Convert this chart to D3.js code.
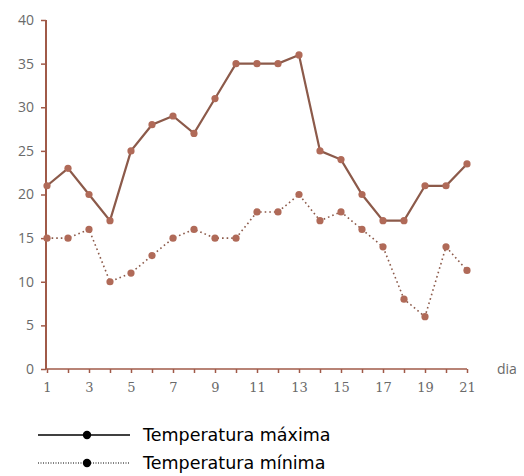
<!DOCTYPE html>
<html>
<head>
<meta charset="utf-8">
<script src="https://cdn.jsdelivr.net/npm/d3@7"></script>
<style>
  body { margin: 0; background: #fff; }
  text { font-family: "Open Sans", "DejaVu Sans", sans-serif; }
</style>
</head>
<body>
<svg></svg>
<script>
var w = 524, h = 476;

// data
var dias = d3.range(1, 22);
var tempMax = [21, 23, 20, 17, 25, 28, 29, 27, 31, 35, 35, 35, 36, 25, 24, 20, 17, 17, 21, 21, 23.5];
var tempMin = [15, 15, 16, 10, 11, 13, 15, 16, 15, 15, 18, 18, 20, 17, 18, 16, 14, 8, 6, 14, 11.3];
var yTicks = [0, 5, 10, 15, 20, 25, 30, 35, 40];
var xLabels = [1, 3, 5, 7, 9, 11, 13, 15, 17, 19, 21];
var legendNames = ["Temperatura máxima", "Temperatura mínima"];

var axisColor = "#a05a48",
    lineColor = "#8c5a4a",
    dotColor = "#b06a58",
    labelColor = "#6a6a6a";

var svg = d3.select("svg").attr("width", w).attr("height", h);

var x = d3.scaleLinear().domain([1, 21]).range([47, 467]);
var y = d3.scaleLinear().domain([0, 40]).range([369, 20]);

// y axis
var yAxis = svg.append("g")
    .attr("transform", "translate(46,0)")
    .call(d3.axisLeft(y).tickValues(yTicks).tickSize(5).tickPadding(7));
yAxis.select(".domain").attr("stroke", axisColor).attr("stroke-width", 2)
    .attr("d", "M0," + y(40) + "V" + y(0));
yAxis.selectAll(".tick line").attr("stroke", axisColor).attr("stroke-width", 1.5);
yAxis.selectAll(".tick text").attr("fill", labelColor).style("font-size", "14px")
    .style("font-family", "'Open Sans', sans-serif");

// x axis
var xAxis = svg.append("g")
    .attr("transform", "translate(0," + y(0) + ")")
    .call(d3.axisBottom(x).tickValues(dias).tickSize(4).tickPadding(10)
        .tickFormat(d => xLabels.indexOf(d) >= 0 ? d : ""));
xAxis.select(".domain").attr("stroke", axisColor).attr("stroke-width", 1.5)
    .attr("d", "M46,0H" + x(21));
xAxis.selectAll(".tick line").attr("stroke", axisColor).attr("stroke-width", 1.5);
xAxis.selectAll(".tick text").attr("fill", labelColor).style("font-size", "13px")
    .style("font-family", "'DejaVu Serif', serif");

svg.append("text")
    .attr("x", 497)
    .attr("y", y(0) + 5)
    .attr("fill", labelColor)
    .style("font-size", "14px")
    .text("dia");

var line = d3.line().x((d, i) => x(dias[i])).y(d => y(d));

// minimum (dotted)
svg.append("path")
    .datum(tempMin)
    .attr("d", line)
    .attr("fill", "none")
    .attr("stroke", lineColor)
    .attr("stroke-width", 1.6)
    .attr("stroke-dasharray", "1.6,3");

// maximum (solid)
svg.append("path")
    .datum(tempMax)
    .attr("d", line)
    .attr("fill", "none")
    .attr("stroke", lineColor)
    .attr("stroke-width", 2.2);

[tempMax, tempMin].forEach(function (serie) {
    svg.append("g").selectAll("circle")
        .data(serie)
        .enter().append("circle")
        .attr("cx", (d, i) => x(dias[i]))
        .attr("cy", d => y(d))
        .attr("r", 3.6)
        .attr("fill", dotColor);
});

// legend
var legend = svg.append("g").selectAll("g")
    .data(legendNames)
    .enter().append("g")
    .attr("transform", (d, i) => "translate(0," + (435 + i * 28) + ")");
legend.append("line")
    .attr("x1", 38).attr("x2", 130)
    .attr("stroke", "#000")
    .attr("stroke-width", (d, i) => i == 0 ? 1.6 : 1.2)
    .attr("stroke-dasharray", (d, i) => i == 0 ? null : "1,1.5");
legend.append("circle")
    .attr("cx", 87).attr("r", 4.2)
    .attr("fill", "#000");
legend.append("text")
    .attr("x", 143)
    .attr("y", 6)
    .attr("fill", "#000")
    .style("font-size", "17.5px")
    .style("font-family", "'DejaVu Sans', sans-serif")
    .text(d => d);
</script>
</body>
</html>
